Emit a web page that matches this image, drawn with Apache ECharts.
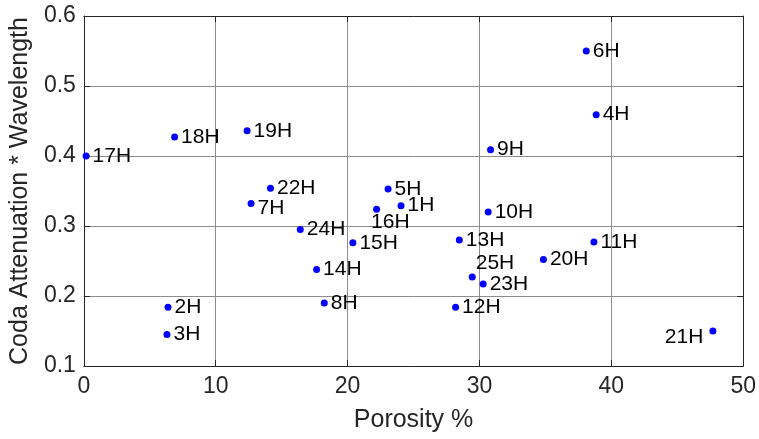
<!DOCTYPE html>
<html>
<head>
<meta charset="utf-8">
<script src="https://cdn.jsdelivr.net/npm/echarts@6/dist/echarts.min.js"></script>
<style>
  html, body { margin: 0; padding: 0; background: #fff; }
  #chart { width: 759px; height: 439px; }
</style>
</head>
<body>
<div id="chart"></div>
<script>
// Well identifiers and their measurements
const wells = ['1H','2H','3H','4H','5H','6H','7H','8H','9H','10H','11H','12H','13H',
               '14H','15H','16H','17H','18H','19H','20H','21H','22H','23H','24H','25H'];
const porosity = [24.05, 6.38, 6.30, 38.85, 23.07, 38.10, 12.68, 18.23, 30.84, 30.66, 38.68, 28.19, 28.47,
                  17.65, 20.40, 22.20, 0.17, 6.88, 12.38, 34.85, 47.70, 14.15, 30.28, 16.41, 29.45];
const attenuation = [0.329, 0.184, 0.145, 0.459, 0.353, 0.550, 0.332, 0.190, 0.409, 0.320, 0.277, 0.184, 0.280,
                     0.238, 0.276, 0.324, 0.400, 0.427, 0.436, 0.252, 0.150, 0.354, 0.217, 0.295, 0.227];

const xTicks = [0, 10, 20, 30, 40, 50];
const yTicks = [0.1, 0.2, 0.3, 0.4, 0.5, 0.6];

// Labels that sit somewhere other than just right of their point
const labelPlacement = {
  '7H':  { position: 'right', offset: [0, 5] },
  '16H': { position: 'right', offset: [-12, 13] },
  '25H': { position: 'right', offset: [-3, -14] },
  '21H': { position: 'left',  offset: [-3, 6] }
};

const FONT = '"Liberation Sans", Arial, Helvetica, sans-serif';
const AXIS_COLOR = '#262626';

const points = wells.map((w, i) => {
  const item = { name: w, value: [porosity[i], attenuation[i]] };
  if (labelPlacement[w]) item.label = labelPlacement[w];
  return item;
});

const chart = echarts.init(document.getElementById('chart'), null, { renderer: 'canvas' });

const baseX = {
  type: 'value', min: xTicks[0], max: xTicks[xTicks.length - 1], interval: 10
};
const baseY = {
  type: 'value', min: yTicks[0], max: yTicks[yTicks.length - 1], interval: 0.1
};

chart.setOption({
  animation: false,
  backgroundColor: '#ffffff',
  grid: { left: 83, right: 15, top: 16, bottom: 73, containLabel: false },
  xAxis: [
    Object.assign({}, baseX, {
      position: 'bottom',
      name: 'Porosity %',
      nameLocation: 'middle',
      nameGap: 42,
      nameTextStyle: { color: AXIS_COLOR, fontSize: 25, fontFamily: FONT },
      axisLine: { show: true, onZero: false, lineStyle: { color: AXIS_COLOR, width: 1 } },
      axisTick: { show: true, inside: true, length: 6, lineStyle: { color: AXIS_COLOR } },
      axisLabel: { color: AXIS_COLOR, fontSize: 23, fontFamily: FONT, margin: 9 },
      splitLine: { show: true, lineStyle: { color: '#8c8c8c', width: 1 } }
    }),
    Object.assign({}, baseX, {
      position: 'top',
      axisLine: { show: true, onZero: false, lineStyle: { color: AXIS_COLOR, width: 1 } },
      axisTick: { show: true, inside: true, length: 6, lineStyle: { color: AXIS_COLOR } },
      axisLabel: { show: false },
      splitLine: { show: false }
    })
  ],
  yAxis: [
    Object.assign({}, baseY, {
      position: 'left',
      name: 'Coda Attenuation * Wavelength',
      nameLocation: 'middle',
      nameGap: 41,
      nameTextStyle: { color: AXIS_COLOR, fontSize: 25, fontFamily: FONT },
      axisLine: { show: true, onZero: false, lineStyle: { color: AXIS_COLOR, width: 1 } },
      axisTick: { show: true, inside: true, length: 6, lineStyle: { color: AXIS_COLOR } },
      axisLabel: {
        color: AXIS_COLOR, fontSize: 23, fontFamily: FONT, margin: 8,
        formatter: v => v.toFixed(1)
      },
      splitLine: { show: true, lineStyle: { color: '#8c8c8c', width: 1 } }
    }),
    Object.assign({}, baseY, {
      position: 'right',
      axisLine: { show: true, onZero: false, lineStyle: { color: AXIS_COLOR, width: 1 } },
      axisTick: { show: true, inside: true, length: 6, lineStyle: { color: AXIS_COLOR } },
      axisLabel: { show: false },
      splitLine: { show: false }
    })
  ],
  series: [{
    type: 'scatter',
    xAxisIndex: 0,
    yAxisIndex: 0,
    symbol: 'circle',
    symbolSize: 7,
    itemStyle: { color: '#0000ff', opacity: 1 },
    label: {
      show: true,
      position: 'right',
      distance: 3,
      formatter: p => p.name,
      color: '#000000',
      fontSize: 21,
      fontFamily: FONT
    },
    data: points
  }]
});
</script>
</body>
</html>
